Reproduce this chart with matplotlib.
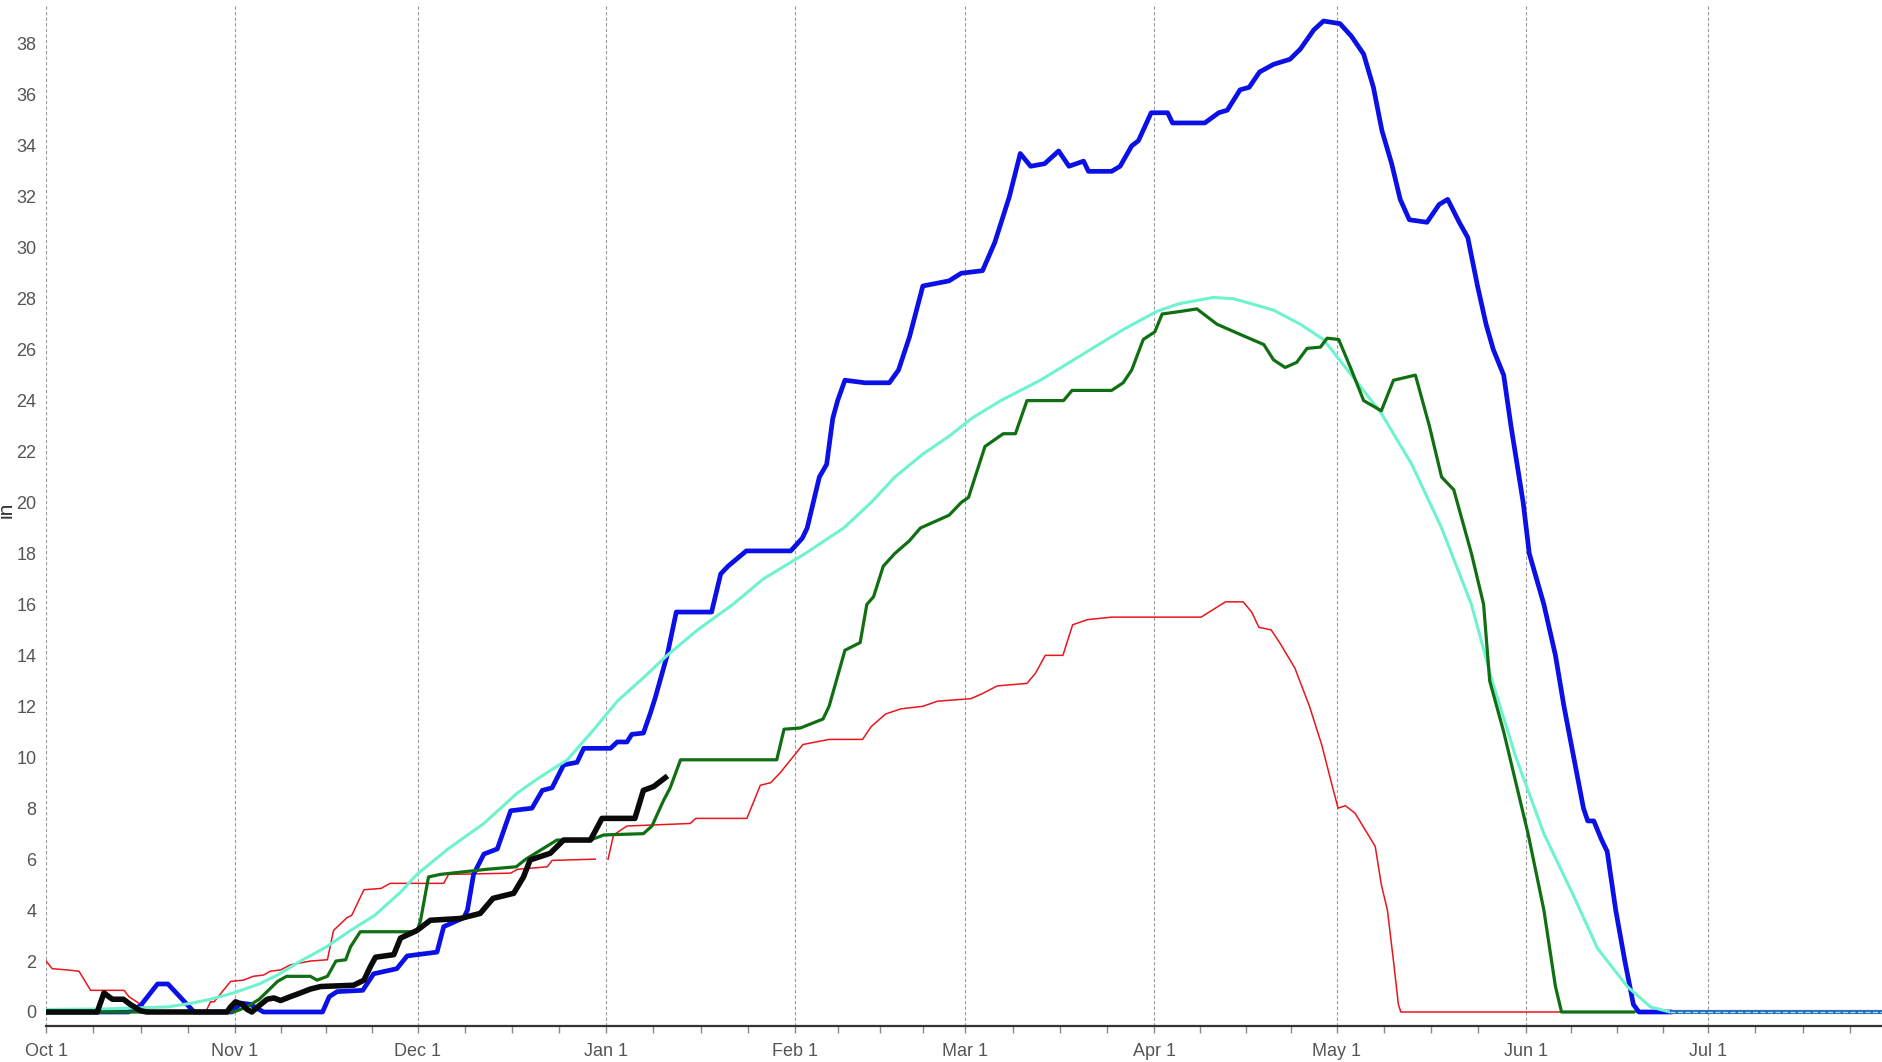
import matplotlib
matplotlib.use("Agg")
import matplotlib.pyplot as plt
import numpy as np

plt.rcParams["font.family"] = ["Liberation Sans Narrow", "Liberation Sans", "DejaVu Sans"]

# days counted from Oct 1 of the water year
month_days = [0, 31, 61, 92, 123, 151, 182, 212, 243, 273, 304]
month_labels = ["Oct 1", "Nov 1", "Dec 1", "Jan 1", "Feb 1", "Mar 1",
                "Apr 1", "May 1", "Jun 1", "Jul 1", ""]

# snow water equivalent, inches
blue_day = [0, 13.5, 15.5, 18.3, 20, 24.3, 30.5, 32, 33.5, 35.7, 45.4, 46.5, 47.8, 52,
            53.8, 57.6, 59.3, 64.2, 65.3, 68.6, 69.2, 70.2, 71.9, 74.1, 76.3, 79.8, 81.5,
            83.1, 85, 87.2, 88.3, 92.7, 93.8, 95.4, 96.2, 98.1, 99.2, 100, 102, 103.5,
            109.3, 110.8, 112, 115, 122.3, 124.2, 125, 127, 128.2, 129.2, 130, 131.2,
            134.5, 138.5, 140, 141.8, 144, 148.3, 150.3, 153.8, 155.8, 158.2, 160, 161.7,
            164, 166.3, 168, 170.4, 171.2, 175, 176.4, 178.3, 179.4, 181.5, 184.2, 185,
            190.3, 192.6, 194, 196.1, 197.6, 199.3, 201.6, 204.3, 206, 208.2, 209.8,
            212.5, 214.4, 216.4, 218, 219.4, 221, 222.4, 223.9, 226.8, 228.8, 230.2,
            232.1, 233.5, 235.1, 236.5, 237.7, 239.4, 240.6, 242.6, 243.6, 246, 247.9,
            249.3, 250.9, 252.5, 253.2, 254.2, 255.4, 256.4, 257.8, 259.3, 260.7, 261.6,
            266.7]
blue_in = [0, 0, 0.25, 1.1, 1.1, 0, 0, 0.35, 0.3, 0, 0, 0.6, 0.8, 0.85,
           1.5, 1.7, 2.2, 2.35, 3.35, 3.7, 4.0, 5.4, 6.2, 6.4, 7.9, 8.0, 8.7,
           8.8, 9.7, 9.8, 10.35, 10.35, 10.6, 10.6, 10.9, 10.95, 11.7, 12.3, 14, 15.7,
           15.7, 17.2, 17.5, 18.1, 18.1, 18.6, 19, 21, 21.5, 23.3, 24, 24.8,
           24.7, 24.7, 25.2, 26.5, 28.5, 28.7, 29, 29.1, 30.2, 32, 33.7, 33.2,
           33.3, 33.8, 33.2, 33.4, 33, 33, 33.2, 34, 34.2, 35.3, 35.3, 34.9,
           34.9, 35.3, 35.4, 36.2, 36.3, 36.9, 37.2, 37.4, 37.8, 38.55, 38.9,
           38.8, 38.3, 37.6, 36.3, 34.6, 33.3, 31.9, 31.1, 31, 31.7, 31.9,
           31, 30.4, 28.5, 27, 26, 25, 23, 20, 18, 16, 14,
           12, 10, 8, 7.5, 7.5, 6.8, 6.3, 4, 2, 0.3, 0,
           0]

aqua_day = [0, 10, 20, 24, 27, 30.8, 35, 38, 41.8, 46, 50, 54, 58.2, 60.9, 66, 71.9,
            77.4, 81, 85.6, 90, 93.8, 98, 102, 107, 112.8, 117.8, 124.7, 131, 135.5,
            139.4, 144, 148.3, 152, 156.8, 163.3, 171.5, 177, 182.4, 186, 191.7, 195,
            198, 201.6, 206, 209.8, 214.4, 219.3, 224.3, 229.2, 234.1, 237.5, 241.4,
            246, 251, 254.8, 259.7, 263.5, 266.7]
aqua_in = [0.1, 0.12, 0.2, 0.35, 0.5, 0.75, 1.1, 1.45, 2.0, 2.55, 3.2, 3.8, 4.7, 5.4, 6.4, 7.4,
           8.6, 9.2, 9.9, 11.1, 12.2, 13.1, 14, 15, 16, 17, 18, 19, 20,
           21, 21.9, 22.6, 23.3, 24, 24.8, 26.0, 26.8, 27.5, 27.8, 28.05, 28.0,
           27.8, 27.55, 27.0, 26.4, 25.0, 23.5, 21.5, 19, 16, 13, 10,
           7, 4.5, 2.5, 1, 0.2, 0]

green_day = [0, 30.8, 33, 35, 38, 39.5, 43.4, 44.5, 46.2, 47.6, 49.2, 50, 51.6, 60.9,
             61.5, 62.8, 64.7, 72.3, 77.2, 78.8, 83.9, 89.4, 91.6, 98.1, 99.5, 101.4,
             102.5, 104.2, 120, 121.2, 123.9, 127.6, 128.6, 131.2, 133.7, 134.8, 135.9,
             137.5, 139.4, 141.8, 143.6, 148.3, 150.3, 151.5, 154.2, 157.2, 159.2, 161.1,
             167.1, 168.5, 175, 176.9, 178.3, 180.2, 182.1, 183.3, 186.3, 189, 192.3,
             196.1, 200, 201.6, 203.5, 205.4, 207.1, 209.3, 210.4, 212.3, 214.4, 216.4,
             219.3, 221.3, 224.9, 227.2, 229.2, 231.2, 234.1, 236.1, 237.1, 239.4,
             241.4, 243.4, 246, 247.9, 248.9, 260.7]
green_in = [0, 0, 0.2, 0.5, 1.2, 1.4, 1.4, 1.25, 1.4, 2.0, 2.05, 2.56, 3.15, 3.15,
            3.6, 5.3, 5.4, 5.6, 5.7, 6.0, 6.75, 6.75, 6.95, 7.0, 7.3, 8.3,
            8.8, 9.9, 9.9, 11.1, 11.15, 11.5, 12, 14.2, 14.5, 16, 16.3,
            17.5, 18, 18.5, 19, 19.5, 20, 20.2, 22.2, 22.7, 22.7, 24,
            24, 24.4, 24.4, 24.7, 25.2, 26.4, 26.7, 27.4, 27.5, 27.6, 27.0,
            26.6, 26.2, 25.6, 25.3, 25.5, 26.05, 26.1, 26.45, 26.4, 25.2, 24,
            23.6, 24.8, 25.0, 23, 21, 20.5, 18, 16, 13, 11,
            9, 7, 4, 1, 0, 0]

red_day = [0, 1, 3.5, 5.4, 7.3, 12.8, 13.6, 15.5, 17, 26.2, 27, 27.6, 30.3, 32.4, 34,
           35.7, 36.8, 38.5, 40.1, 43.4, 46.2, 47.2, 49.4, 50.2, 52.2, 55, 56.5, 65.3,
           66.1, 76.3, 77.4, 82.3, 83.1, 90.2, 91.0, 92.3, 93.2, 95.4, 105.8, 106.7,
           115.1, 117.3, 119, 120.6, 123.3, 124.3, 128.6, 134.1, 135.5, 137.9, 140.4,
           144, 146.4, 151.9, 153.8, 156.2, 161.1, 162.5, 164.1, 167, 168.6, 171, 175,
           189.7, 191.7, 193.7, 196.6, 198, 199.2, 201.2, 202.6, 205.1, 207.5, 209.5,
           211.1, 212.2, 213.4, 215, 218.3, 219.3, 220.3, 221.3, 222.1, 222.5, 262]
red_in = [2.0, 1.7, 1.65, 1.6, 0.85, 0.85, 0.6, 0.3, 0.05, 0.0, 0.4, 0.4, 1.2, 1.25, 1.4,
          1.45, 1.6, 1.65, 1.85, 2.0, 2.05, 3.2, 3.7, 3.8, 4.8, 4.85, 5.05, 5.05,
          5.4, 5.45, 5.6, 5.7, 5.95, 6.0, np.nan, 6.0, 6.95, 7.3, 7.4, 7.6,
          7.6, 8.9, 9.0, 9.4, 10.2, 10.5, 10.7, 10.7, 11.2, 11.7, 11.9,
          12.0, 12.2, 12.3, 12.5, 12.8, 12.9, 13.3, 14.0, 14.0, 15.2, 15.4, 15.5,
          15.5, 15.8, 16.1, 16.1, 15.7, 15.1, 15.0, 14.5, 13.5, 12, 10.5,
          9, 8.0, 8.1, 7.8, 6.5, 5, 4, 2, 0.3, 0, 0]

black_day = [0, 8.4, 9.5, 10.3, 10.9, 12.7, 13.8, 15.5, 16.5, 29.7, 30.3, 31.1, 32.2, 33,
             33.8, 35, 36.3, 37.4, 38.5, 40.1, 41.8, 43.4, 45.1, 50.5, 52.2, 53.3, 54.1,
             57.1, 58.2, 60.9, 63.1, 68, 71.3, 73.4, 76.8, 78.4, 79.5, 82.8, 85, 89.4,
             91.3, 96.7, 98.1, 99.8, 101.7]
black_in = [0, 0, 0.75, 0.6, 0.5, 0.5, 0.3, 0.05, 0, 0, 0.2, 0.4, 0.3, 0.1,
            0.0, 0.25, 0.5, 0.55, 0.45, 0.6, 0.75, 0.9, 1.0, 1.05, 1.25, 1.8, 2.15,
            2.25, 2.9, 3.2, 3.6, 3.67, 3.87, 4.46, 4.66, 5.3, 5.97, 6.23, 6.75, 6.75,
            7.6, 7.6, 8.7, 8.85, 9.2]

tail_day = [266.7, 302]
tail_in = [0, 0]

fig = plt.figure(figsize=(18.83, 10.62), dpi=100)
ax = fig.add_axes([0.0245, 0.0339, 0.9755, 0.9614])

ax.plot(red_day, red_in, color="#e8161c", lw=1.1, zorder=3)
ax.plot(blue_day, blue_in, color="#0a10e6", lw=3.4, zorder=4, solid_joinstyle="round")
ax.plot(aqua_day, aqua_in, color="#6ff2cf", lw=2.2, zorder=5)
ax.plot(green_day, green_in, color="#0f6f12", lw=2.3, zorder=6)
ax.plot(black_day, black_in, color="#0a0a0a", lw=4.0, zorder=7, solid_joinstyle="round")
ax.plot(tail_day, tail_in, color="#2a70b8", lw=3.0, zorder=8, solid_capstyle="butt")
ax.plot(tail_day, tail_in, color="#a8ddf5", lw=0.9, zorder=9, dashes=(4, 2))

# month ticks, each month split into quarters for the minor ticks
minor = []
for a, b in zip(month_days[:-1], month_days[1:]):
    minor += [a + (b - a) * k / 4 for k in (1, 2, 3)]
ax.set_xticks(month_days)
ax.set_xticklabels(month_labels)
ax.set_xticks(minor, minor=True)

ax.set_yticks(np.arange(0, 39, 2))
ax.set_yticks(np.arange(2, 39, 4), minor=True)

# limits after the ticks so they don't get widened
ax.set_xlim(0, 301.7)
ax.set_ylim(-0.55, 39.53)

ax.tick_params(axis="x", which="both", direction="out", length=5, width=1,
               color="#888888", labelsize=13, labelcolor="#555555", pad=7)
ax.tick_params(axis="y", which="both", length=0, labelsize=13,
               labelcolor="#555555", pad=7)

ax.xaxis.grid(True, which="major", color="#9a9a9a", lw=0.8, dashes=(3, 2))
ax.yaxis.grid(True, which="minor", color="#8c8c8c", lw=1.3)
ax.yaxis.grid(False, which="major")
ax.set_axisbelow(True)

for side in ("left", "right", "top"):
    ax.spines[side].set_visible(False)
ax.spines["bottom"].set_color("#333333")
ax.spines["bottom"].set_linewidth(1.6)

fig.text(0.0035, 0.52, "in", rotation=90, ha="center", va="center",
         fontsize=15, color="#333333")

fig.savefig("out.png", dpi=100)
